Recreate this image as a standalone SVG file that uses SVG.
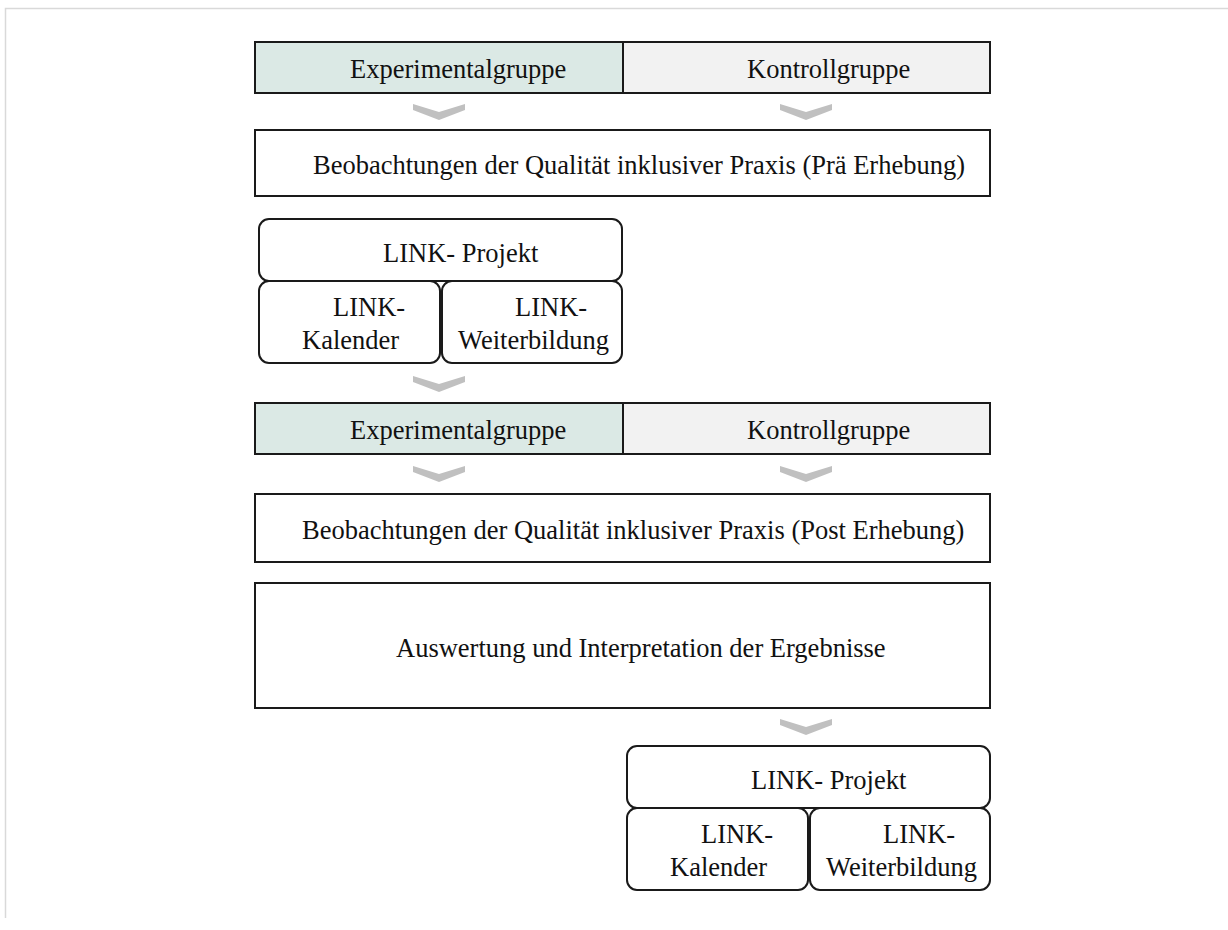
<svg xmlns="http://www.w3.org/2000/svg" width="1228" height="930" viewBox="0 0 1228 930">
  <defs>
    <style>
      .frame { fill: none; stroke: #d9d9d9; stroke-width: 1.5; }
      .box { stroke: #1a1a1a; stroke-width: 2; fill: #ffffff; }
      .exp { fill: #dbe9e5; }
      .ctl { fill: #f2f2f2; }
      .chev { fill: #c0c0c0; }
      text { font-family: "Liberation Serif", "Times New Roman", serif; font-size: 26.5px; fill: #111111; }
    </style>
    <polygon id="chevron" points="-26,0 0,8 26,0 26,6 0,16 -26,6"/>
  </defs>
  <rect width="1228" height="930" fill="#ffffff"/>
  <path class="frame" d="M5.5,918 V8.5 H1228"/>

  <!-- first group header -->
  <g id="exp1">
    <rect class="box exp" x="255" y="42" width="368" height="51"/>
    <text x="350" y="77.5">Experimentalgruppe</text>
  </g>
  <g id="ctl1">
    <rect class="box ctl" x="623" y="42" width="367" height="51"/>
    <text x="747" y="77.5">Kontrollgruppe</text>
  </g>

  <g id="pre">
    <rect class="box" x="255" y="130" width="735" height="66"/>
    <text x="313" y="174">Beobachtungen der Qualität inklusiver Praxis (Prä Erhebung)</text>
  </g>

  <g id="link1">
    <rect class="box" x="259" y="219" width="363" height="62" rx="10"/>
    <text x="383" y="262">LINK- Projekt</text>
  </g>
  <g id="kal1">
    <rect class="box" x="259" y="281" width="181" height="82" rx="10"/>
    <text x="333" y="316">LINK-</text>
    <text x="302" y="349">Kalender</text>
  </g>
  <g id="wb1">
    <rect class="box" x="442" y="281" width="180" height="82" rx="10"/>
    <text x="515" y="316">LINK-</text>
    <text x="458" y="349">Weiterbildung</text>
  </g>

  <!-- second group header -->
  <g id="exp2">
    <rect class="box exp" x="255" y="403" width="368" height="51"/>
    <text x="350" y="438.5">Experimentalgruppe</text>
  </g>
  <g id="ctl2">
    <rect class="box ctl" x="623" y="403" width="367" height="51"/>
    <text x="747" y="438.5">Kontrollgruppe</text>
  </g>

  <g id="post">
    <rect class="box" x="255" y="494" width="735" height="68"/>
    <text x="302" y="539">Beobachtungen der Qualität inklusiver Praxis (Post Erhebung)</text>
  </g>

  <g id="auswertung">
    <rect class="box" x="255" y="583" width="735" height="125"/>
    <text x="396" y="656.5">Auswertung und Interpretation der Ergebnisse</text>
  </g>

  <g id="link2">
    <rect class="box" x="627" y="746" width="363" height="62" rx="10"/>
    <text x="751" y="789">LINK- Projekt</text>
  </g>
  <g id="kal2">
    <rect class="box" x="627" y="808" width="181" height="82" rx="10"/>
    <text x="701" y="843">LINK-</text>
    <text x="670" y="876">Kalender</text>
  </g>
  <g id="wb2">
    <rect class="box" x="810" y="808" width="180" height="82" rx="10"/>
    <text x="883" y="843">LINK-</text>
    <text x="826" y="876">Weiterbildung</text>
  </g>

  <!-- flow chevrons -->
  <g id="connectors" class="chev">
    <use href="#chevron" x="439" y="104"/>
    <use href="#chevron" x="806" y="104"/>
    <use href="#chevron" x="439" y="376"/>
    <use href="#chevron" x="439" y="466"/>
    <use href="#chevron" x="806" y="466"/>
    <use href="#chevron" x="806" y="719"/>
  </g>
</svg>
